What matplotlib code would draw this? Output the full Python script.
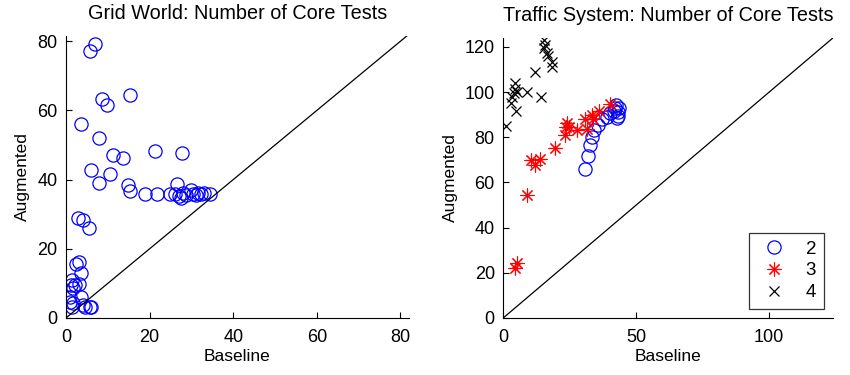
import matplotlib
matplotlib.use("Agg")
import matplotlib.pyplot as plt

plt.rcParams['font.family'] = ['Liberation Sans', 'DejaVu Sans']
plt.rcParams['font.size'] = 11.5

# --- Grid World: core tests (baseline, augmented) ---
grid_base = [6.9, 5.7, 15.4, 8.7, 9.9, 3.6, 7.9, 21.2, 27.7, 11.2, 13.6, 6.0, 10.6, 8.0,
             14.8, 15.4, 19.0, 21.8, 24.8, 26.5, 26.0, 27.0, 27.5, 28.0, 28.6, 29.9,
             30.5, 31.0, 31.5, 32.2, 33.0, 34.4,
             2.9, 4.0, 5.5, 3.2, 2.5, 3.5, 1.4, 1.1, 2.1, 3.2, 1.7, 1.0, 3.7, 1.0, 1.7,
             4.0, 4.5, 5.7, 6.1, 1.4]
grid_aug = [79.3, 77.2, 64.5, 63.3, 61.7, 56.1, 52.1, 48.4, 47.8, 47.0, 46.3, 42.9, 41.7, 39.0,
            38.3, 36.7, 35.7, 35.7, 35.9, 38.6, 35.8, 35.2, 34.8, 36.1, 35.5, 36.9,
            35.9, 35.6, 36.0, 35.8, 36.0, 35.9,
            28.9, 28.4, 26.1, 16.2, 15.7, 13.1, 11.0, 9.5, 9.5, 9.8, 8.6, 6.2, 6.1, 4.7, 4.2,
            3.7, 3.1, 3.1, 3.3, 3.3]

# --- Traffic System: core tests by group ---
t2_base = [30.6, 31.8, 32.5, 33.3, 34.3, 35.8, 37.3, 39.0, 40.2, 41.5, 42.0, 42.4, 42.8,
           43.0, 43.3, 43.5]
t2_aug = [65.8, 71.5, 76.6, 80.3, 83.3, 85.5, 88.0, 88.9, 90.7, 91.5, 93.0, 94.3, 88.5,
          91.0, 89.2, 93.0]
t3_base = [40.2, 36.1, 33.3, 33.6, 30.6, 31.5, 23.9, 23.6, 24.8, 23.3, 27.7, 19.3,
           10.5, 13.9, 11.8, 8.9, 5.1, 4.5]
t3_aug = [94.8, 91.8, 89.9, 88.0, 88.1, 83.6, 86.2, 84.7, 84.7, 81.0, 83.3, 75.4,
          70.0, 70.3, 67.8, 54.5, 24.2, 22.0]
t4_base = [15.5, 15.8, 15.5, 16.4, 17.0, 18.5, 18.5, 11.8, 4.5, 4.3, 5.1, 3.9, 8.9,
           3.3, 3.0, 4.8, 14.2, 1.0]
t4_aug = [123.1, 120.9, 119.4, 117.2, 116.0, 113.2, 111.3, 109.1, 104.0, 101.3, 100.2,
          99.8, 100.1, 98.0, 95.1, 91.7, 97.7, 85.2]

grid_lim = 81.5
traffic_lim = 124

fig = plt.figure(figsize=(8.5, 3.75), dpi=100)
ax1 = fig.add_axes([0.0776, 0.152, 0.4034, 0.752])
ax2 = fig.add_axes([0.592, 0.152, 0.388, 0.747])

mk = dict(linestyle='none', markersize=9.5, markeredgewidth=0.9)

ax1.plot(grid_base, grid_aug, marker='o', markerfacecolor='none', color='#0000ff', **mk)
ax1.plot([0, grid_lim], [0, grid_lim], color='black', linewidth=0.9)
ax1.set_xlim(0, 82)
ax1.set_ylim(0, grid_lim)
ax1.set_xticks([0, 20, 40, 60, 80])
ax1.set_yticks([0, 20, 40, 60, 80])
ax1.set_title("Grid World: Number of Core Tests", fontsize=14.3, pad=12)

ax2.plot(t2_base, t2_aug, marker='o', markerfacecolor='none', color='#0000ff', label='2', **mk)
# MATLAB-style asterisk: 8 spokes
ax2.plot(t3_base, t3_aug, marker=(8, 2, 0), color='#ff0000', label='3',
         linestyle='none', markersize=10, markeredgewidth=0.8)
ax2.plot(t4_base, t4_aug, marker='x', color='black', label='4',
         linestyle='none', markersize=7, markeredgewidth=0.9)
ax2.plot([0, traffic_lim], [0, traffic_lim], color='black', linewidth=0.9)
ax2.set_xlim(0, traffic_lim)
ax2.set_ylim(0, traffic_lim)
ax2.set_xticks([0, 50, 100])
ax2.set_yticks([0, 20, 40, 60, 80, 100, 120])
ax2.set_title("Traffic System: Number of Core Tests", fontsize=14.3, pad=12)
leg = ax2.legend(loc='lower right', frameon=True, fancybox=False, edgecolor='black',
                 borderaxespad=0.5, handletextpad=0.8, handlelength=1.8, borderpad=0.4,
                 labelspacing=0.25, fontsize=13.5)
leg.get_frame().set_linewidth(0.9)

for ax in (ax1, ax2):
    ax.spines['top'].set_visible(False)
    ax.spines['right'].set_visible(False)
    for s in ('left', 'bottom'):
        ax.spines[s].set_linewidth(0.8)
    ax.tick_params(direction='in', length=4, width=0.8, labelsize=13)
    ax.tick_params(axis='x', pad=8)
    ax.tick_params(axis='y', pad=6)
    ax.set_xlabel("Baseline", fontsize=12.5, labelpad=2)
    ax.set_ylabel("Augmented", fontsize=12.5, labelpad=5)

fig.savefig("out.png", dpi=100)
